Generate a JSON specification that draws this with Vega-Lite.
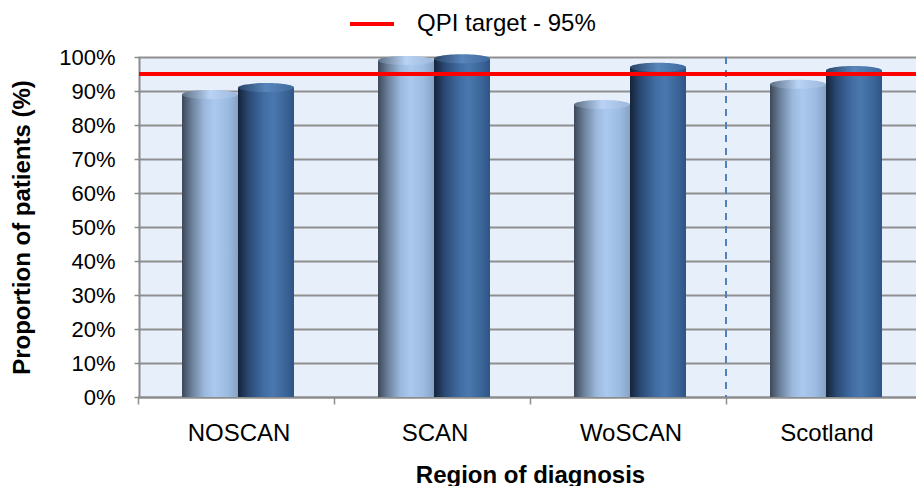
{
  "$schema": "https://vega.github.io/schema/vega-lite/v6.json",
  "autosize": "none",
  "width": 777,
  "height": 340,
  "padding": {"left": 139, "top": 57, "right": 0, "bottom": 89},
  "background": "white",
  "config": {
    "font": "Liberation Sans",
    "view": {"fill": "#E6EFFA", "stroke": null},
    "axis": {
      "labelFont": "Liberation Sans",
      "titleFont": "Liberation Sans",
      "labelColor": "#000000",
      "titleColor": "#000000",
      "domainColor": "#8c8c8c",
      "domainWidth": 2,
      "tickColor": "#8c8c8c",
      "tickWidth": 1.5
    }
  },
  "data": {
    "values": [
      {"region": "NOSCAN", "series": "Year 1", "value": 0.89},
      {"region": "NOSCAN", "series": "Year 2", "value": 0.91},
      {"region": "SCAN", "series": "Year 1", "value": 0.99},
      {"region": "SCAN", "series": "Year 2", "value": 0.995},
      {"region": "WoSCAN", "series": "Year 1", "value": 0.86},
      {"region": "WoSCAN", "series": "Year 2", "value": 0.97},
      {"region": "Scotland", "series": "Year 1", "value": 0.92},
      {"region": "Scotland", "series": "Year 2", "value": 0.96}
    ]
  },
  "encoding": {
    "x": {
      "field": "region",
      "type": "nominal",
      "sort": ["NOSCAN", "SCAN", "WoSCAN", "Scotland"],
      "scale": {"paddingInner": 0, "paddingOuter": 0, "range": [-1, 783]},
      "axis": {
        "title": "Region of diagnosis",
        "titleFontSize": 24,
        "titleFontWeight": "bold",
        "titlePadding": 18,
        "labelFontSize": 24,
        "labelAngle": 0,
        "labelPadding": 17,
        "labelOffset": 3,
        "tickSize": 7,
        "bandPosition": 0
      }
    },
    "xOffset": {
      "field": "series",
      "type": "nominal",
      "scale": {"domain": ["Year 1", "Year 2"], "range": [44, 156], "paddingInner": 0, "paddingOuter": 0}
    },
    "y": {
      "field": "value",
      "type": "quantitative",
      "scale": {"domain": [0, 1]},
      "axis": {
        "title": "Proportion of patients (%)",
        "titleFontSize": 24,
        "titleFontWeight": "bold",
        "titlePadding": 24,
        "values": [0, 0.1, 0.2, 0.3, 0.4, 0.5, 0.6, 0.7, 0.8, 0.9, 1],
        "format": ".0%",
        "labelFontSize": 22,
        "labelPadding": 19,
        "tickSize": 5,
        "grid": true,
        "gridColor": "#8f8f8f",
        "gridWidth": 2
      }
    }
  },
  "layer": [
    {
      "transform": [{"filter": "datum.series === 'Year 1'"}],
      "mark": {
        "type": "bar",
        "color": {
          "gradient": "linear", "x1": 0, "x2": 1, "y1": 0, "y2": 0,
          "stops": [
            {"offset": 0, "color": "#3c4858"},
            {"offset": 0.18, "color": "#6c819c"},
            {"offset": 0.4, "color": "#9bb8dc"},
            {"offset": 0.58, "color": "#abc9ef"},
            {"offset": 0.82, "color": "#9cbbe1"},
            {"offset": 1, "color": "#87a2c6"}
          ]
        }
      }
    },
    {
      "transform": [{"filter": "datum.series === 'Year 2'"}],
      "mark": {
        "type": "bar",
        "color": {
          "gradient": "linear", "x1": 0, "x2": 1, "y1": 0, "y2": 0,
          "stops": [
            {"offset": 0, "color": "#15243a"},
            {"offset": 0.2, "color": "#2b4b76"},
            {"offset": 0.45, "color": "#406ca2"},
            {"offset": 0.62, "color": "#4a78ae"},
            {"offset": 0.85, "color": "#3b6598"},
            {"offset": 1, "color": "#2e5485"}
          ]
        }
      }
    },
    {
      "transform": [{"filter": "datum.series === 'Year 1'"}],
      "mark": {
        "type": "point",
        "filled": true,
        "opacity": 1,
        "size": 3136,
        "shape": "M-1,0A1,0.16,0,1,0,1,0A1,0.16,0,1,0,-1,0Z",
        "color": {
          "gradient": "linear", "x1": 0, "x2": 1, "y1": 0, "y2": 0,
          "stops": [
            {"offset": 0, "color": "#5d6f86"},
            {"offset": 0.5, "color": "#b8d3f5"},
            {"offset": 1, "color": "#9db8dc"}
          ]
        }
      }
    },
    {
      "transform": [{"filter": "datum.series === 'Year 2'"}],
      "mark": {
        "type": "point",
        "filled": true,
        "opacity": 1,
        "size": 3136,
        "shape": "M-1,0A1,0.16,0,1,0,1,0A1,0.16,0,1,0,-1,0Z",
        "color": {
          "gradient": "linear", "x1": 0, "x2": 1, "y1": 0, "y2": 0,
          "stops": [
            {"offset": 0, "color": "#2a4468"},
            {"offset": 0.5, "color": "#5885bb"},
            {"offset": 1, "color": "#3f6a9f"}
          ]
        }
      }
    },
    {
      "data": {"values": [{"region": "Scotland"}]},
      "mark": {"type": "rule", "color": "#4f81bd", "strokeWidth": 2, "strokeDash": [7, 6]},
      "encoding": {
        "x": {"field": "region", "type": "nominal", "bandPosition": 0},
        "xOffset": null,
        "y": null
      }
    },
    {
      "data": {"values": [{"target": 0.95, "label": "QPI target - 95%"}]},
      "mark": {"type": "rule", "strokeWidth": 4},
      "encoding": {
        "x": null,
        "xOffset": null,
        "y": {"field": "target", "type": "quantitative"},
        "stroke": {
          "field": "label",
          "type": "nominal",
          "scale": {"range": ["#ff0000"]},
          "legend": {
            "title": null,
            "orient": "none",
            "legendX": 209,
            "legendY": -57,
            "symbolType": "stroke",
            "symbolSize": 1936,
            "symbolStrokeWidth": 4,
            "labelFontSize": 24,
            "labelLimit": 400,
            "labelFont": "Liberation Sans",
            "labelColor": "#000000",
            "labelOffset": 21
          }
        }
      }
    }
  ]
}
